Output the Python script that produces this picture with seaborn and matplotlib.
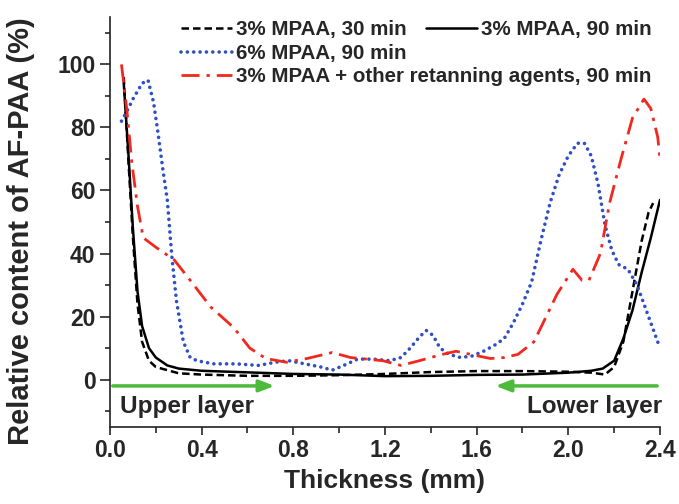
import numpy as np
import pandas as pd
import seaborn as sns
import matplotlib.pyplot as plt

# data
x_30 = [0.06, 0.08, 0.10, 0.12, 0.14, 0.17, 0.20, 0.25, 0.30, 0.40, 0.60, 0.80, 1.00,
        1.20, 1.40, 1.60, 1.80, 2.00, 2.10, 2.16, 2.20, 2.24, 2.28, 2.32, 2.35, 2.37]
y_30 = [96, 70, 45, 24, 12, 6, 4, 3, 2, 1.6, 1.2, 1.2, 1.4,
        1.8, 2.4, 2.7, 2.7, 2.5, 2.2, 1.6, 4, 12, 28, 44, 53, 56]

x_90 = [0.06, 0.08, 0.10, 0.12, 0.14, 0.17, 0.20, 0.25, 0.30, 0.40, 0.60, 0.80, 1.00,
        1.20, 1.40, 1.60, 1.80, 2.00, 2.10, 2.15, 2.20, 2.24, 2.28, 2.32, 2.36, 2.40]
y_90 = [94, 72, 48, 28, 17, 10, 7, 4.5, 3.5, 2.8, 2.3, 1.8, 1.6,
        1.1, 1.2, 1.5, 1.6, 2.2, 2.8, 3.5, 6, 13, 22, 34, 45, 57]

x_6 = [0.05, 0.08, 0.10, 0.14, 0.166, 0.19, 0.21, 0.23, 0.25, 0.27, 0.29, 0.32, 0.35,
       0.38, 0.45, 0.55, 0.65, 0.72, 0.78, 0.85, 0.92, 0.97, 1.02, 1.08, 1.15, 1.22,
       1.27, 1.31, 1.35, 1.38, 1.41, 1.44, 1.48, 1.53, 1.58, 1.63, 1.68, 1.72, 1.76,
       1.80, 1.84, 1.88, 1.92, 1.96, 2.00, 2.04, 2.07, 2.10, 2.13, 2.16, 2.19, 2.22,
       2.26, 2.30, 2.34, 2.37, 2.40]
y_6 = [82, 86, 89, 94, 95, 88, 78, 67, 57, 39, 25, 12, 7,
       6, 5, 5, 4.5, 5.5, 6, 5, 4, 3, 4.5, 6.5, 6.5, 6,
       7, 10, 13.5, 15.6, 14, 10, 8, 7, 7.5, 9, 11, 13, 18,
       24, 31, 44, 56, 65, 71, 75, 75, 71, 62, 49, 41, 36.5,
       35, 30, 22, 16, 10]

x_mix = [0.05, 0.073, 0.095, 0.12, 0.145, 0.20, 0.28, 0.35, 0.44, 0.54, 0.61, 0.68,
         0.77, 0.86, 0.97, 1.05, 1.12, 1.19, 1.27, 1.35, 1.45, 1.51, 1.60, 1.66, 1.72,
         1.78, 1.85, 1.88, 1.95, 2.02, 2.06, 2.09, 2.14, 2.18, 2.23, 2.28, 2.33, 2.36,
         2.39, 2.40]
y_mix = [100, 86, 69, 55, 45, 42, 38, 31.5, 23, 16.5, 10, 6.7,
         5.5, 6.7, 8.6, 7, 6.5, 6, 4.5, 6, 8, 9, 7.6, 6.7, 7,
         8, 12, 16.5, 27, 35, 31.5, 31.5, 40, 56, 70, 83, 89, 86,
         77, 70]

labels = ['3% MPAA, 30 min', '3% MPAA, 90 min', '6% MPAA, 90 min',
          '3% MPAA + other retanning agents, 90 min']

sns.set_style('ticks')
plt.rcParams['font.family'] = ['Liberation Sans', 'DejaVu Sans']
plt.rcParams['font.weight'] = 'bold'

fig = plt.figure(figsize=(6.79, 5.04), dpi=100)
ax = fig.add_axes([0.162, 0.153, 0.810, 0.813])

red = '#f0281e'
blue = '#2f4fc4'
green = '#4cbb3c'

sns.lineplot(x=x_30, y=y_30, ax=ax, color='black', lw=1.8, label=labels[0])
sns.lineplot(x=x_90, y=y_90, ax=ax, color='black', lw=1.8, label=labels[1])
sns.lineplot(x=x_6, y=y_6, ax=ax, color=blue, lw=2.6, label=labels[2])
sns.lineplot(x=x_mix, y=y_mix, ax=ax, color=red, lw=2.0, label=labels[3])
lines = ax.get_lines()
lines[0].set_linestyle((0, (3, 1.6)))
lines[2].set_linestyle((0, (0.01, 1.75)))
lines[2].set_dash_capstyle('round')
lines[3].set_linestyle((0, (6.5, 2.5, 1.2, 2.5)))
ax.get_legend().remove()

ax.set_xlim(0, 2.4)
ax.set_ylim(-15, 115)
ax.set_xticks(np.arange(0, 2.41, 0.4))
ax.set_xticks(np.arange(0.2, 2.4, 0.4), minor=True)
ax.set_yticks(np.arange(0, 101, 20))
ax.set_yticks(np.arange(-10, 115, 20), minor=True)
ax.set_xticklabels([f'{v:.1f}' for v in np.arange(0, 2.41, 0.4)])
sns.despine(ax=ax)
for s in ['left', 'bottom']:
    ax.spines[s].set_linewidth(1.2)
    ax.spines[s].set_color('#222222')
ax.tick_params(which='both', width=1.2, labelsize=16.5, pad=3)
ax.tick_params(axis='y', which='major', length=7.5)
ax.tick_params(axis='y', which='minor', length=3.5)
ax.tick_params(axis='x', which='major', length=6)
ax.tick_params(axis='x', which='minor', length=4)
for t in ax.get_xticklabels() + ax.get_yticklabels():
    t.set_fontweight('bold')

ax.set_xlabel('Thickness (mm)', fontsize=19, fontweight='bold', labelpad=5)
ax.set_ylabel('Relative content of AF-PAA (%)', fontsize=21, fontweight='bold')
ax.yaxis.set_label_coords(-0.136, 0.478)

# layer arrows
ax.annotate('', xy=(0.73, -2), xytext=(0.0, -2),
            arrowprops=dict(arrowstyle='-|>,head_length=0.9,head_width=0.35', color=green, lw=2.5))
ax.annotate('', xy=(1.67, -2), xytext=(2.4, -2),
            arrowprops=dict(arrowstyle='-|>,head_length=0.9,head_width=0.35', color=green, lw=2.5))
ax.text(0.045, -8.5, 'Upper layer', fontsize=17.5, fontweight='bold', va='center', ha='left')
ax.text(2.41, -8.5, 'Lower layer', fontsize=17.5, fontweight='bold', va='center', ha='right')

leg_kw = dict(frameon=False, fontsize=14.8, handlelength=2.5, handletextpad=0.2,
              borderpad=0, borderaxespad=0, loc='upper left', labelspacing=0.18)
leg1 = fig.legend(handles=lines[:2], labels=labels[:2], ncol=2, columnspacing=0.9,
                  bbox_to_anchor=(181 / 679, 1 - 20 / 504), **leg_kw)
leg2 = fig.legend(handles=lines[2:], labels=labels[2:],
                  bbox_to_anchor=(181 / 679, 1 - 44 / 504), **leg_kw)
for leg in (leg1, leg2):
    for t in leg.get_texts():
        t.set_fontweight('bold')

fig.savefig('out.png', dpi=100)
